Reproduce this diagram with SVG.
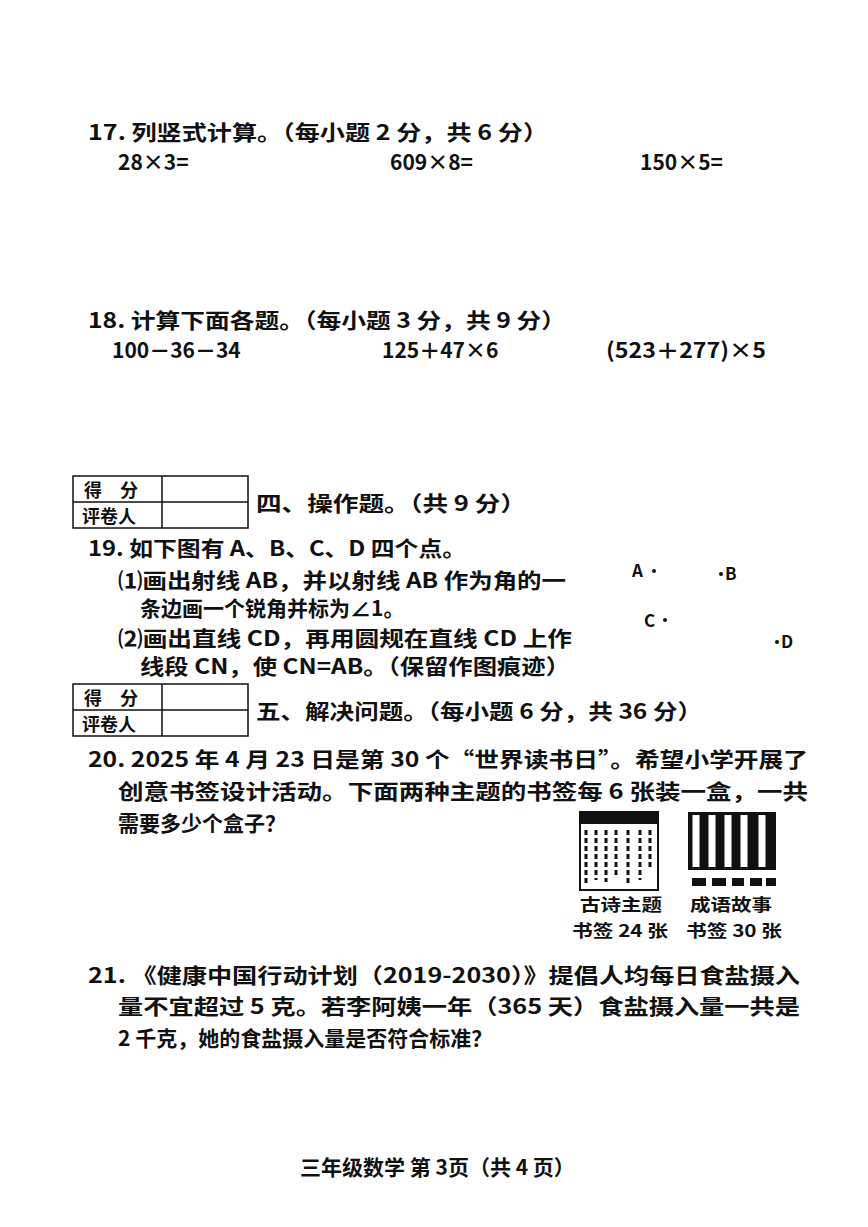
<svg xmlns="http://www.w3.org/2000/svg" width="868" height="1227" viewBox="0 0 868 1227">
<style>
text{font-family:"Noto Sans CJK SC","Liberation Sans",sans-serif;font-weight:bold;font-size:21px;fill:#111}
.b{fill:none;stroke:#111;stroke-width:1.5}
.s{font-size:17px}
.t{font-size:18px}
.l{font-size:17px}
</style>
<rect width="868" height="1227" fill="#fff"/>
<text x="88" y="140" textLength="460" lengthAdjust="spacingAndGlyphs">17. 列竖式计算。（每小题 2 分，共 6 分）</text>
<text x="118" y="170">28×3=</text>
<text x="390" y="170">609×8=</text>
<text x="640" y="170">150×5=</text>
<text x="88" y="328" textLength="478" lengthAdjust="spacingAndGlyphs">18. 计算下面各题。（每小题 3 分，共 9 分）</text>
<text x="112" y="358">100－36－34</text>
<text x="382" y="358">125＋47×6</text>
<text x="606" y="358" textLength="160" lengthAdjust="spacingAndGlyphs">(523＋277)×5</text>
<g id="table1"><rect class="b" x="73" y="476" width="175" height="52"/><line class="b" x1="73" y1="502" x2="248" y2="502"/><line class="b" x1="162" y1="476" x2="162" y2="528"/>
<text class="t" x="84" y="497">得　分</text><text class="t" x="82" y="523">评卷人</text></g>
<text x="256" y="511" textLength="270" lengthAdjust="spacingAndGlyphs">四、操作题。（共 9 分）</text>
<text x="88" y="556" textLength="378" lengthAdjust="spacingAndGlyphs">19. 如下图有 A、B、C、D 四个点。</text>
<text x="118" y="588" textLength="448" lengthAdjust="spacingAndGlyphs">⑴画出射线 AB，并以射线 AB 作为角的一</text>
<text x="140" y="616">条边画一个锐角并标为∠1。</text>
<text x="118" y="646" textLength="454" lengthAdjust="spacingAndGlyphs">⑵画出直线 CD，再用圆规在直线 CD 上作</text>
<text x="140" y="674" textLength="430" lengthAdjust="spacingAndGlyphs">线段 CN，使 CN=AB。（保留作图痕迹）</text>
<g id="points"><text class="s" x="632" y="577">A</text><circle cx="654" cy="571" r="2" fill="#111"/>
<circle cx="721" cy="574" r="2" fill="#111"/><text class="s" x="725" y="580">B</text>
<text class="s" x="644" y="627">C</text><circle cx="665" cy="620" r="2" fill="#111"/>
<circle cx="777" cy="642" r="2" fill="#111"/><text class="s" x="781" y="648">D</text></g>
<g id="table2"><rect class="b" x="73" y="684" width="175" height="52"/><line class="b" x1="73" y1="710" x2="248" y2="710"/><line class="b" x1="162" y1="684" x2="162" y2="736"/>
<text class="t" x="84" y="705">得　分</text><text class="t" x="82" y="731">评卷人</text></g>
<text x="256" y="719" textLength="446" lengthAdjust="spacingAndGlyphs">五、解决问题。（每小题 6 分，共 36 分）</text>
<text x="88" y="767" textLength="720" lengthAdjust="spacingAndGlyphs">20. 2025 年 4 月 23 日是第 30 个“世界读书日”。希望小学开展了</text>
<text x="118" y="799" textLength="690" lengthAdjust="spacingAndGlyphs">创意书签设计活动。下面两种主题的书签每 6 张装一盒，一共</text>
<text x="118" y="831">需要多少个盒子？</text>
<g id="bm1"><rect x="580" y="812" width="78" height="78" fill="#fff" stroke="#111" stroke-width="2"/>
<rect x="580" y="812" width="78" height="12" fill="#111"/>
<path d="M586 830v55M596 830v50M606 830v52M616 830v45M628 830v55M640 830v50M650 830v40" stroke="#111" stroke-width="3" stroke-dasharray="5 3"/></g>
<g id="bm2"><rect x="688" y="812" width="88" height="58" fill="#111"/>
<path d="M696 815v52M712 815v52M728 815v52M744 815v52M762 815v52" stroke="#fff" stroke-width="7"/>
<path d="M692 882h14M712 882h14M732 882h12M750 882h12M766 882h10" stroke="#111" stroke-width="8"/></g>
<text class="l" x="580" y="911" textLength="82" lengthAdjust="spacingAndGlyphs">古诗主题</text>
<text class="l" x="572" y="937" textLength="96" lengthAdjust="spacingAndGlyphs">书签 24 张</text>
<text class="l" x="690" y="911" textLength="82" lengthAdjust="spacingAndGlyphs">成语故事</text>
<text class="l" x="686" y="937" textLength="96" lengthAdjust="spacingAndGlyphs">书签 30 张</text>
<text x="88" y="983" textLength="712" lengthAdjust="spacingAndGlyphs">21. 《健康中国行动计划（2019-2030）》提倡人均每日食盐摄入</text>
<text x="118" y="1014" textLength="682" lengthAdjust="spacingAndGlyphs">量不宜超过 5 克。若李阿姨一年（365 天）食盐摄入量一共是</text>
<text x="118" y="1046">2 千克，她的食盐摄入量是否符合标准？</text>
<text x="300" y="1175" font-size="19">三年级数学 第 3页（共 4 页）</text>
</svg>
